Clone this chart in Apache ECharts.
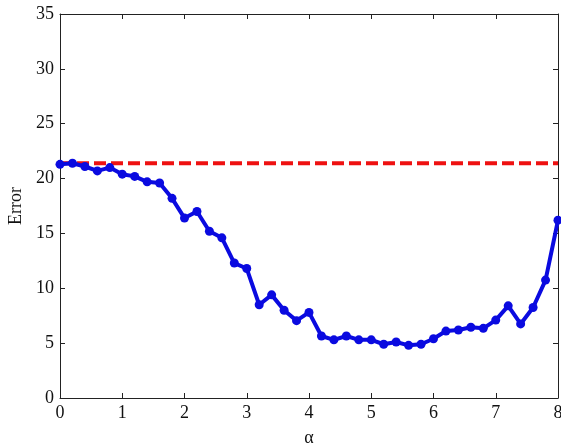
<!DOCTYPE html>
<html>
<head>
<meta charset="utf-8">
<script src="https://cdn.jsdelivr.net/npm/echarts@6/dist/echarts.min.js"></script>
<style>
  html, body { margin: 0; padding: 0; background: #fff; }
  #chart { width: 561px; height: 447px; }
</style>
</head>
<body>
<div id="chart"></div>
<script>
  // alpha values, 0 to 8 in steps of 0.2
  var alphas = [0, 0.2, 0.4, 0.6, 0.8, 1.0, 1.2, 1.4, 1.6, 1.8, 2.0, 2.2, 2.4, 2.6, 2.8, 3.0,
    3.2, 3.4, 3.6, 3.8, 4.0, 4.2, 4.4, 4.6, 4.8, 5.0, 5.2, 5.4, 5.6, 5.8, 6.0, 6.2, 6.4, 6.6,
    6.8, 7.0, 7.2, 7.4, 7.6, 7.8, 8.0];
  var errors = [21.3, 21.4, 21.1, 20.7, 21.0, 20.4, 20.2, 19.7, 19.6, 18.2, 16.4, 17.0, 15.2,
    14.6, 12.3, 11.8, 8.5, 9.4, 8.0, 7.05, 7.8, 5.65, 5.3, 5.65, 5.3, 5.3, 4.9, 5.1, 4.8, 4.9,
    5.4, 6.1, 6.2, 6.45, 6.35, 7.1, 8.4, 6.75, 8.25, 10.75, 16.2];
  var baselineX = [0, 8];
  var baselineY = [21.4, 21.4];

  var chart = echarts.init(document.getElementById('chart'));
  var font = 'Liberation Serif';
  var axisLine = { show: true, onZero: false, lineStyle: { color: '#222', width: 1 } };
  var tick = { show: true, inside: true, length: 5, lineStyle: { color: '#222' } };

  var option = {
    backgroundColor: '#fff',
    animation: false,
    grid: { left: 60, right: 3, top: 14, bottom: 49, outerBoundsMode: 'none', containLabel: false },
    xAxis: [
      {
        type: 'value', min: 0, max: 8, interval: 1,
        name: 'α', nameLocation: 'middle', nameGap: 31,
        nameTextStyle: { fontFamily: font, fontSize: 18, color: '#111' },
        axisLine: axisLine, axisTick: tick,
        axisLabel: { fontFamily: font, fontSize: 18, color: '#111', margin: 6 },
        splitLine: { show: false }
      },
      {
        type: 'value', min: 0, max: 8, interval: 1, position: 'top',
        axisLine: axisLine, axisTick: tick, axisLabel: { show: false },
        splitLine: { show: false }
      }
    ],
    yAxis: [
      {
        type: 'value', min: 0, max: 35, interval: 5,
        name: 'Error', nameLocation: 'middle', nameGap: 34,
        nameTextStyle: { fontFamily: font, fontSize: 18, color: '#111' },
        axisLine: axisLine, axisTick: tick,
        axisLabel: { fontFamily: font, fontSize: 18, color: '#111', margin: 6 },
        splitLine: { show: false }
      },
      {
        type: 'value', min: 0, max: 35, interval: 5, position: 'right',
        axisLine: axisLine, axisTick: tick, axisLabel: { show: false },
        splitLine: { show: false }
      }
    ],
    series: [
      {
        type: 'line',
        data: baselineX.map(function (x, i) { return [x, baselineY[i]]; }),
        showSymbol: false,
        lineStyle: { color: '#ee1111', width: 4, type: [12, 5] }
      },
      {
        type: 'line',
        data: alphas.map(function (x, i) { return [x, errors[i]]; }),
        symbol: 'circle', symbolSize: 9,
        itemStyle: { color: '#0a0ae0' },
        lineStyle: { color: '#0a0ae0', width: 4 }
      }
    ]
  };
  chart.setOption(option);
</script>
</body>
</html>
